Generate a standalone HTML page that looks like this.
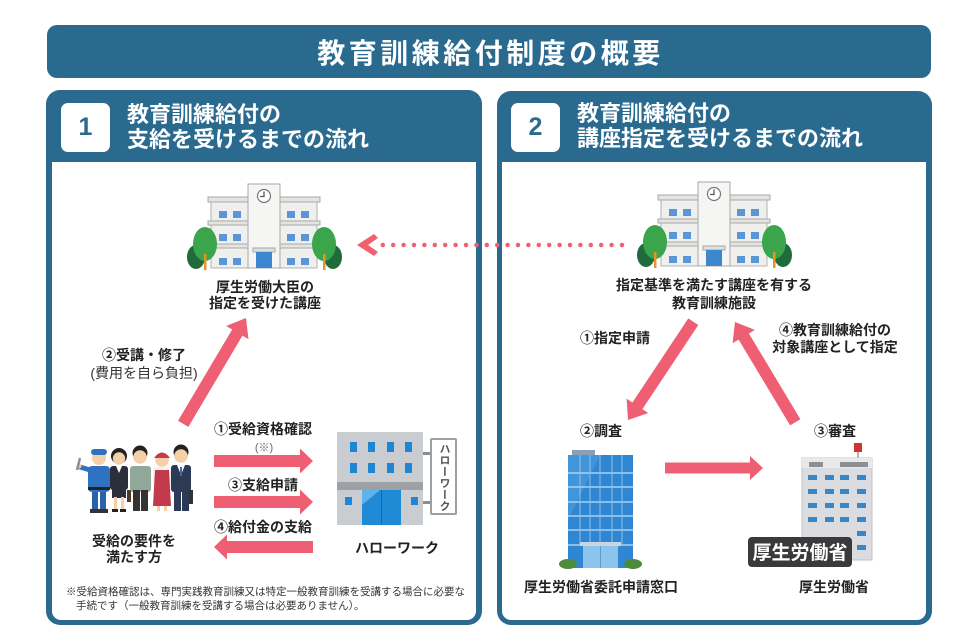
<!DOCTYPE html>
<html><head><meta charset="utf-8">
<style>
*{margin:0;padding:0;box-sizing:border-box}
html,body{width:961px;height:643px;overflow:hidden;background:#fff}
body{position:relative;font-family:"Liberation Sans","Noto Sans CJK JP",sans-serif}
.abs{position:absolute}
.title{left:47px;top:25px;width:884px;height:53px;background:#2a6a8f;border-radius:10px;color:#fff;font-weight:bold;font-size:28px;letter-spacing:3.5px;text-align:center;line-height:58px;padding-left:3px}
.panel{background:#2a6a8f;border-radius:14px}
.inner{background:#fff;border-radius:0 0 9px 9px}
.badge{background:#fff;border-radius:7px;color:#2a6a8f;font-weight:bold;font-size:25px;text-align:center;line-height:49px;width:49px;height:49px}
.ph{color:#fff;font-weight:bold;font-size:22px;line-height:25px;white-space:nowrap}
.fn{font-size:10.5px;color:#333;white-space:nowrap;line-height:14px}
.sign{left:430px;top:438px;width:27px;height:77px;background:#fff;border:2px solid #9aa0a6;border-radius:2px;writing-mode:vertical-rl;font-weight:bold;font-size:11px;color:#555;text-align:center;line-height:23px;padding-top:2px;letter-spacing:0.5px;white-space:nowrap;overflow:hidden}
</style></head><body>

<div class="abs title">教育訓練給付制度の概要</div>

<div class="abs panel" style="left:46px;top:90px;width:436px;height:535px"></div>
<div class="abs inner" style="left:52px;top:162px;width:424px;height:458px"></div>
<div class="abs badge" style="left:61px;top:103px">1</div>
<div class="abs ph" style="left:127px;top:102px">教育訓練給付の<br>支給を受けるまでの流れ</div>

<div class="abs panel" style="left:497px;top:91px;width:435px;height:534px"></div>
<div class="abs inner" style="left:502px;top:162px;width:424px;height:458px"></div>
<div class="abs badge" style="left:511px;top:103px">2</div>
<div class="abs ph" style="left:577px;top:101px">教育訓練給付の<br>講座指定を受けるまでの流れ</div>

<svg class="abs" style="left:0;top:0" width="961" height="643" viewBox="0 0 961 643">
 <g id="school">
  <ellipse cx="196" cy="257" rx="9" ry="12" fill="#1f6b3a"/>
  <ellipse cx="333" cy="257" rx="9" ry="12" fill="#1f6b3a"/>
  <rect x="211" y="200" width="37" height="68" fill="#efefed" stroke="#b0b0b0"/>
  <rect x="280" y="200" width="37" height="68" fill="#efefed" stroke="#b0b0b0"/>
  <rect x="208" y="197" width="42" height="5" fill="#e4e4e2" stroke="#a8a8a8"/>
  <rect x="278" y="197" width="42" height="5" fill="#e4e4e2" stroke="#a8a8a8"/>
  <rect x="208" y="221" width="42" height="4" fill="#e4e4e2" stroke="#a8a8a8"/>
  <rect x="278" y="221" width="42" height="4" fill="#e4e4e2" stroke="#a8a8a8"/>
  <rect x="208" y="244" width="42" height="4" fill="#e4e4e2" stroke="#a8a8a8"/>
  <rect x="278" y="244" width="42" height="4" fill="#e4e4e2" stroke="#a8a8a8"/>
  <g fill="#5a96d6">
   <rect x="219" y="211" width="8" height="7"/><rect x="233" y="211" width="8" height="7"/>
   <rect x="287" y="211" width="8" height="7"/><rect x="301" y="211" width="8" height="7"/>
   <rect x="219" y="234" width="8" height="7"/><rect x="233" y="234" width="8" height="7"/>
   <rect x="287" y="234" width="8" height="7"/><rect x="301" y="234" width="8" height="7"/>
   <rect x="219" y="258" width="8" height="7"/><rect x="233" y="258" width="8" height="7"/>
   <rect x="287" y="258" width="8" height="7"/><rect x="301" y="258" width="8" height="7"/>
  </g>
  <rect x="248" y="184" width="32" height="84" fill="#f5f5f3" stroke="#a8a8a8"/>
  <circle cx="264" cy="196" r="6.5" fill="#fff" stroke="#777" stroke-width="1.2"/>
  <path d="M264 191.5 V196.5 H260" fill="none" stroke="#555" stroke-width="1.3"/>
  <rect x="253" y="248" width="22" height="4" fill="#e0e0de" stroke="#a8a8a8"/>
  <rect x="256" y="252" width="16" height="16" fill="#3d86d0"/>
  <ellipse cx="205" cy="244" rx="12" ry="17" fill="#3aa54a"/>
  <rect x="204" y="254" width="2.5" height="16" fill="#e8932a"/>
  <ellipse cx="324" cy="244" rx="12" ry="17" fill="#3aa54a"/>
  <rect x="323" y="254" width="2.5" height="16" fill="#e8932a"/>
 </g>
 <use href="#school" transform="translate(450,-2)"/>

 <!-- dotted connector -->
 <line x1="622" y1="245" x2="381" y2="245" stroke="#f0606f" stroke-width="4.5" stroke-linecap="round" stroke-dasharray="0 10.4"/>
 <polygon points="357,245 374,234 378,238 368,245 378,252 374,256" fill="#f0606f"/>

 <!-- arrows -->
 <g fill="#ef5f74">
  <g transform="translate(246,318) rotate(-59.3)"><polygon points="-123,-6 -17,-6 -17,-13 0,0 -17,13 -17,6 -123,6"/></g>
  <g transform="translate(313,461)"><polygon points="-99,-6 -13,-6 -13,-12.5 0,0 -13,12.5 -13,6 -99,6"/></g>
  <g transform="translate(313,502)"><polygon points="-99,-6 -13,-6 -13,-12.5 0,0 -13,12.5 -13,6 -99,6"/></g>
  <g transform="translate(214,547) rotate(180)"><polygon points="-99,-6 -13,-6 -13,-12.5 0,0 -13,12.5 -13,6 -99,6"/></g>
  <g transform="translate(628,420) rotate(123.6)"><polygon points="-118,-6 -17,-6 -17,-13 0,0 -17,13 -17,6 -118,6"/></g>
  <g transform="translate(735,322) rotate(-121)"><polygon points="-117,-6 -17,-6 -17,-13 0,0 -17,13 -17,6 -117,6"/></g>
  <g transform="translate(763,468)"><polygon points="-98,-5.5 -13,-5.5 -13,-12 0,0 -13,12 -13,5.5 -98,5.5"/></g>
 </g>

 <!-- people -->
 <g>
  <rect x="92" y="489" width="6" height="21" fill="#2a62aa"/><rect x="100" y="489" width="6" height="21" fill="#2a62aa"/>
  <rect x="90" y="509" width="9" height="4" fill="#333"/><rect x="99" y="509" width="9" height="4" fill="#333"/>
  <rect x="88" y="466" width="22" height="26" rx="4" fill="#2f72c0"/>
  <rect x="88" y="487" width="22" height="3" fill="#222"/>
  <path d="M90 470 L80 467" stroke="#2f72c0" stroke-width="5" stroke-linecap="round"/>
  <circle cx="79" cy="466" r="2.5" fill="#f5cfa8"/>
  <path d="M77 470 L80 458" stroke="#8a9099" stroke-width="2.5"/>
  <circle cx="99" cy="458" r="7" fill="#f5cfa8"/>
  <rect x="91" y="449" width="16" height="6" rx="3" fill="#2f72c0"/>
  <circle cx="119" cy="456" r="8" fill="#222"/>
  <circle cx="119" cy="458.5" r="6.2" fill="#f5cfa8"/>
  <rect x="110" y="466" width="18" height="24" rx="3" fill="#2b2f3a"/>
  <polygon points="116,466 122,466 119,473" fill="#fff"/>
  <rect x="112" y="488" width="14" height="10" fill="#2b2f3a"/>
  <rect x="114" y="497" width="3" height="13" fill="#f5cfa8"/><rect x="121" y="497" width="3" height="13" fill="#f5cfa8"/>
  <rect x="112" y="509" width="6" height="3" fill="#222"/><rect x="120" y="509" width="6" height="3" fill="#222"/>
  <rect x="127" y="490" width="4" height="12" fill="#4a3a2a"/>
  <circle cx="140" cy="453" r="7.5" fill="#222"/>
  <circle cx="140" cy="457" r="6.8" fill="#f5cfa8"/>
  <rect x="130" y="466" width="21" height="26" rx="3" fill="#8fa899"/>
  <rect x="133" y="490" width="7" height="21" fill="#333"/><rect x="141" y="490" width="7" height="21" fill="#333"/>
  <circle cx="162" cy="460" r="6.8" fill="#f5cfa8"/>
  <path d="M154 458 Q162 447 170 458 Z" fill="#c8384a"/>
  <rect x="153" y="467" width="18" height="20" rx="3" fill="#f2f2f2"/>
  <path d="M155 470 H169 L171 506 H153 Z" fill="#c23a4c"/>
  <rect x="157" y="506" width="3" height="5" fill="#f5cfa8"/><rect x="164" y="506" width="3" height="5" fill="#f5cfa8"/>
  <circle cx="181" cy="452" r="7.5" fill="#222"/>
  <circle cx="181" cy="456" r="6.8" fill="#f5cfa8"/>
  <rect x="171" y="465" width="20" height="27" rx="3" fill="#2c3a55"/>
  <polygon points="177,465 185,465 181,475" fill="#fff"/>
  <rect x="180" y="467" width="2" height="9" fill="#3a6ab0"/>
  <rect x="174" y="490" width="7" height="21" fill="#2c3a55"/><rect x="182" y="490" width="7" height="21" fill="#2c3a55"/>
  <rect x="189" y="490" width="4" height="14" fill="#333"/>
 </g>

 <!-- Hello Work building -->
 <rect x="337" y="432" width="86" height="93" fill="#c9ccd1"/>
 <rect x="337" y="482" width="86" height="8" fill="#9da1a6"/>
 <g fill="#1e86d2">
  <rect x="350" y="442" width="7" height="10"/><rect x="368" y="442" width="7" height="10"/><rect x="387" y="442" width="7" height="10"/><rect x="405" y="442" width="7" height="10"/>
  <rect x="350" y="463" width="7" height="10"/><rect x="368" y="463" width="7" height="10"/><rect x="387" y="463" width="7" height="10"/><rect x="405" y="463" width="7" height="10"/>
  <rect x="345" y="497" width="7" height="8"/><rect x="411" y="497" width="7" height="8"/>
 </g>
 <rect x="362" y="490" width="39" height="35" fill="#1f8ad6"/>
 <polygon points="362,490 380,490 362,505" fill="#5fb2ea"/>
 <line x1="381.5" y1="490" x2="381.5" y2="525" stroke="#1466a6" stroke-width="1"/>
 <rect x="423" y="452" width="8" height="3" fill="#8a8f95"/>
 <rect x="423" y="501" width="8" height="3" fill="#8a8f95"/>

 <!-- blue office building -->
 <rect x="572" y="450" width="23" height="5" fill="#8aa0b8"/>
 <rect x="568" y="455" width="65" height="113" fill="#2f86d2"/>
 <polygon points="568,455 600,455 568,520" fill="#52a0e0" opacity="0.6"/>
 <g stroke="#a9d2f2" stroke-width="1.4">
  <line x1="568" y1="473" x2="633" y2="473"/><line x1="568" y1="487" x2="633" y2="487"/>
  <line x1="568" y1="502" x2="633" y2="502"/><line x1="568" y1="516" x2="633" y2="516"/>
  <line x1="568" y1="530" x2="633" y2="530"/><line x1="568" y1="545" x2="633" y2="545"/>
 </g>
 <g stroke="#8fc2ea" stroke-width="1">
  <line x1="580" y1="455" x2="580" y2="545"/><line x1="590" y1="455" x2="590" y2="545"/>
  <line x1="600" y1="455" x2="600" y2="545"/><line x1="612" y1="455" x2="612" y2="545"/>
  <line x1="622" y1="455" x2="622" y2="545"/>
 </g>
 <rect x="580" y="542" width="41" height="4" fill="#c9d6e0"/>
 <rect x="583" y="546" width="35" height="22" fill="#8cc4ec"/>
 <line x1="600.5" y1="546" x2="600.5" y2="568" stroke="#5a9ed0"/>
 <ellipse cx="568" cy="564" rx="9" ry="5" fill="#4d8a3c"/>
 <ellipse cx="633" cy="564" rx="9" ry="5" fill="#4d8a3c"/>

 <!-- MHLW building -->
 <line x1="858" y1="450" x2="858" y2="458" stroke="#999" stroke-width="1.5"/>
 <rect x="854" y="443" width="8" height="9" fill="#d0342c"/>
 <rect x="802" y="458" width="70" height="102" fill="#dadcdf" stroke="#c0c3c6"/>
 <rect x="802" y="458" width="70" height="10" fill="#e8e9eb"/>
 <rect x="809" y="462" width="14" height="5" fill="#8b8f94"/>
 <rect x="840" y="462" width="28" height="5" fill="#8b8f94"/>
 <g fill="#3a87c8">
  <rect x="808" y="475" width="9" height="5"/><rect x="825" y="475" width="9" height="5"/><rect x="840" y="475" width="9" height="5"/><rect x="857" y="475" width="9" height="5"/>
  <rect x="808" y="489" width="9" height="5"/><rect x="825" y="489" width="9" height="5"/><rect x="840" y="489" width="9" height="5"/><rect x="857" y="489" width="9" height="5"/>
  <rect x="808" y="503" width="9" height="5"/><rect x="825" y="503" width="9" height="5"/><rect x="840" y="503" width="9" height="5"/><rect x="857" y="503" width="9" height="5"/>
  <rect x="808" y="517" width="9" height="5"/><rect x="825" y="517" width="9" height="5"/><rect x="840" y="517" width="9" height="5"/><rect x="857" y="517" width="9" height="5"/>
  <rect x="857" y="531" width="9" height="5"/><rect x="857" y="545" width="9" height="5"/>
 </g>
 <rect x="748" y="537" width="104" height="30" rx="4" fill="#3a3a3a"/>
 <text x="800" y="559" text-anchor="middle" font-size="19" font-weight="bold" fill="#fff" font-family="Liberation Sans, Noto Sans CJK JP, sans-serif">厚生労働省</text>

 <!-- labels -->
 <g font-family="Liberation Sans, Noto Sans CJK JP, sans-serif" font-size="14" font-weight="bold" fill="#222" text-anchor="middle">
  <text x="265" y="292">厚生労働大臣の</text>
  <text x="265" y="308">指定を受けた講座</text>
  <text x="144" y="360">②受講・修了</text>
  <text x="144" y="378" font-weight="normal" fill="#333">(費用を自ら負担)</text>
  <text x="263" y="434">①受給資格確認</text>
  <text x="264" y="451" font-size="11" font-weight="normal" fill="#666">(※)</text>
  <text x="263" y="490">③支給申請</text>
  <text x="263" y="532">④給付金の支給</text>
  <text x="134" y="546">受給の要件を</text>
  <text x="134" y="562">満たす方</text>
  <text x="397" y="553">ハローワーク</text>
  <text x="714" y="290">指定基準を満たす講座を有する</text>
  <text x="714" y="308">教育訓練施設</text>
  <text x="615" y="343">①指定申請</text>
  <text x="835" y="335">④教育訓練給付の</text>
  <text x="835" y="352">対象講座として指定</text>
  <text x="601" y="436">②調査</text>
  <text x="835" y="436">③審査</text>
  <text x="601" y="592">厚生労働省委託申請窓口</text>
  <text x="834" y="592">厚生労働省</text>
 </g>
</svg>

<div class="abs sign">ハローワーク</div>

<div class="abs fn" style="left:66px;top:585px">※受給資格確認は、専門実践教育訓練又は特定一般教育訓練を受講する場合に必要な</div>
<div class="abs fn" style="left:76px;top:599px">手続です（一般教育訓練を受講する場合は必要ありません）。</div>

</body></html>
